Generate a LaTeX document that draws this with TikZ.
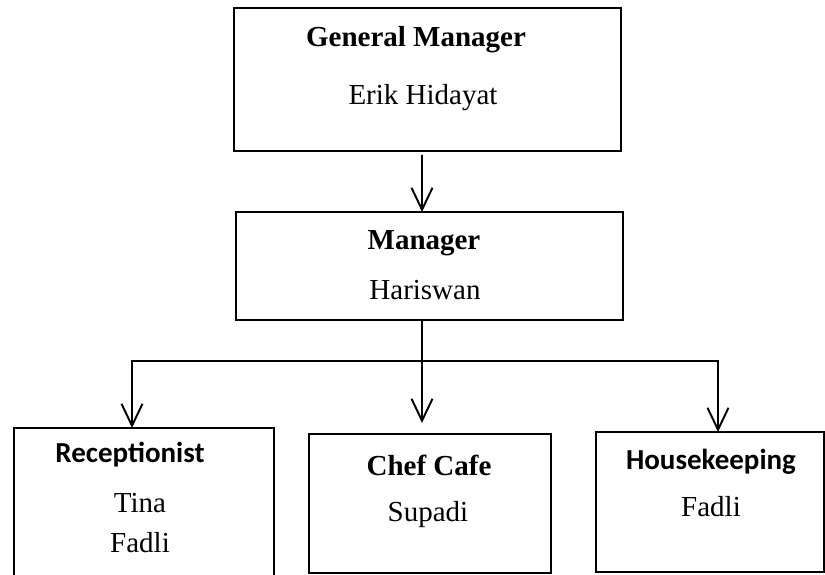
\documentclass[tikz,border=0pt]{standalone}
\usepackage{fontspec}
\setmainfont{Liberation Serif}
\newfontfamily\calibri{Carlito}
\usepackage{tikz}
\usetikzlibrary{arrows.meta,positioning,calc}
\tikzset{
  box/.style={draw=black,line width=1.1pt,fill=none,inner sep=0pt,outer sep=0pt},
  ttl/.style={font=\fontsize{16.5}{20}\selectfont\bfseries,inner sep=0pt},
  ttlsans/.style={font=\fontsize{16.5}{20}\selectfont\calibri\bfseries,inner sep=0pt},
  nm/.style={font=\fontsize{16.5}{22.8}\selectfont,inner sep=0pt,align=center},
  ar/.style={-{Straight Barb[length=4.4mm,width=4.2mm,line width=1.1pt]},line width=1.1pt,black},
  ln/.style={line width=1.1pt,black},
}
\begin{document}
\begin{tikzpicture}
    \useasboundingbox (0,0) rectangle (16.5,11.5);
    % boxes
    \node[box,minimum width=7.74cm,minimum height=2.86cm] (gm)  at (8.55,9.91) {};
    \node[box,minimum width=7.74cm,minimum height=2.16cm] (mgr) at (8.59,6.18) {};
    \node[box,minimum width=5.2cm,minimum height=3.16cm]  (rec) at (2.88,1.36) {};
    \node[box,minimum width=4.84cm,minimum height=2.78cm] (chf) at (8.6,1.43) {};
    \node[box,minimum width=4.56cm,minimum height=2.8cm]  (hk)  at (14.2,1.46) {};
    % texts
    \node[ttl]     (gmt)  at (8.32,10.70) {General Manager};
    \node[nm]      (gmn)  at (8.46,9.54)  {Erik Hidayat};
    \node[ttl]     (mgrt) at (8.48,6.64)  {Manager};
    \node[nm]      (mgrn) at (8.50,5.70)  {Hariswan};
    \node[ttlsans] (rect) at (2.60,2.40)  {Receptionist};
    \node[nm]      (recn) at (2.80,1.04)  {Tina\\Fadli};
    \node[ttl]     (chft) at (8.58,2.20)  {Chef Cafe};
    \node[nm]      (chfn) at (8.56,1.20)  {Supadi};
    \node[ttlsans] (hkt)  at (14.22,2.26) {Housekeeping};
    \node[nm]      (hkn)  at (14.22,1.36) {Fadli};
    % connectors
    \coordinate (fork) at (8.44,4.28);
    \draw[ar] ([xshift=-1.1mm,yshift=-0.8mm]gm.south) -- ([xshift=-1.5mm]mgr.north);
    \draw[ar] ([xshift=-1.5mm]mgr.south) -- ([xshift=-1.6mm,yshift=2.2mm]chf.north);
    \draw[ar] (fork) -| ([xshift=-2.4mm]rec.north);
    \draw[ar] (fork) -| ([xshift=1.6mm]hk.north);
\end{tikzpicture}
\end{document}
